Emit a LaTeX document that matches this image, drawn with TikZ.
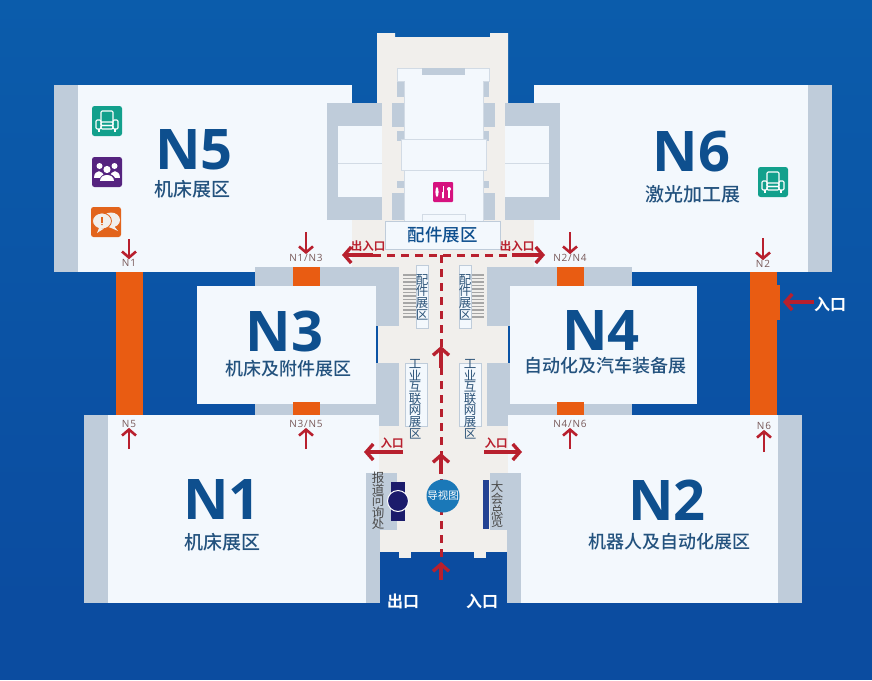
\documentclass[tikz,border=0pt]{standalone}
\usepackage{fontspec}
\setmainfont{Open Sans}
\newfontfamily\cjk{Noto Sans CJK SC}
\newfontfamily\cjkm{Noto Sans CJK SC Medium}
\newfontfamily\cjkb{Noto Sans CJK SC Bold}
\usetikzlibrary{arrows.meta}
\definecolor{hall}{HTML}{F3F8FD}
\definecolor{wing}{HTML}{BFCCDA}
\definecolor{floorc}{HTML}{F1EFEC}
\definecolor{ink}{HTML}{0E4F8E}
\definecolor{inkb}{HTML}{2C5378}
\definecolor{org}{HTML}{E95C12}
\definecolor{redc}{HTML}{B8202E}
\definecolor{teal}{HTML}{12A08C}
\definecolor{purp}{HTML}{55237F}
\definecolor{icorg}{HTML}{E2641C}
\definecolor{pinkc}{HTML}{D6127F}
\definecolor{navy}{HTML}{1B1B6B}
\definecolor{deep}{HTML}{0B4CA0}
\definecolor{guidec}{HTML}{1A78B8}
\tikzset{
  x=1pt,y=-1pt,
  pane/.style={fill=hall,draw=wing!70,line width=.6pt},
  title/.style={font=\fontsize{56}{56}\selectfont\bfseries,text=ink,inner sep=0pt},
  sub/.style={font=\cjkm\fontsize{18}{18}\selectfont,text=inkb!70!ink,inner sep=0pt},
  subw/.style={font=\cjkm\fontsize{19}{19}\selectfont,text=inkb!70!ink,inner sep=0pt},
  tag/.style={font=\addfontfeature{LetterSpace=8}\fontsize{10}{10}\selectfont,text=black!60!red!30!gray,inner sep=0pt},
  vtxt/.style={font=\cjk\fontsize{12.5}{11.6}\selectfont,text=inkb,inner sep=0pt,align=center},
  vbox/.style={fill=hall,draw=wing,line width=.6pt},
  redtxt/.style={font=\cjkb\fontsize{11.5}{11.5}\selectfont,text=redc,inner sep=0pt},
  whitetxt/.style={font=\cjkb\fontsize{16}{16}\selectfont,text=white,inner sep=0pt},
  redarrow/.style={draw=redc,line width=3.4pt,-{Straight Barb[length=7pt,width=16pt,line width=3.4pt]}},
  smallarrow/.style={draw=redc,line width=2.6pt,-{Straight Barb[length=6pt,width=14pt,line width=2.6pt]}},
  dashline/.style={draw=redc,line width=3pt,dash pattern=on 8pt off 6pt},
  icon/.style={rounded corners=2.5pt,draw=none,minimum size=30pt,inner sep=0pt},
  chair/.pic={
    \begin{scope}[draw=white,line width=1.1pt,fill=none,rounded corners=1.2pt]
      \draw (-6,1) -- (-6,-10) -- (6,-10) -- (6,1);
      \draw (-11,-1) rectangle (-6,8);
      \draw (6,-1) rectangle (11,8);
      \draw (-6,1) rectangle (6,4.5);
      \draw (-6,4.5) rectangle (6,8);
      \draw (-8,8) -- (-8,11) (8,8) -- (8,11);
    \end{scope}}
}
\begin{document}
\begin{tikzpicture}
\useasboundingbox (0,0) rectangle (872,680);
% background
\shade[top color={rgb,255:red,11;green,92;blue,171},bottom color=deep] (0,0) rectangle (872,604);
\fill[deep] (0,603) rectangle (872,680);
% central floor
\fill[floorc] (377,33) -- (395,33) -- (395,37) -- (490,37) -- (490,33) -- (508,33) -- (508,270) -- (377,270) -- cycle;
\fill[floorc] (352,220) rectangle (534,272);
\fill[floorc] (378,260) rectangle (508,552);
% N5 N6
\fill[hall] (54,85) rectangle (352,272);
\fill[wing] (54,85) rectangle (78,272);
\fill[hall] (534,85) rectangle (832,272);
\fill[wing] (808,85) rectangle (832,272);
% side blocks of the upper building
\fill[wing] (327,103) rectangle (382,220);
\fill[hall] (338,126) rectangle (382,197);
\draw[wing!70,line width=.6pt] (338,163) -- (382,163);
\fill[wing] (505,103) rectangle (560,220);
\fill[hall] (505,126) rectangle (549,197);
\draw[wing!70,line width=.6pt] (505,163) -- (549,163);
% inner building
\fill[wing] (397,81) rectangle (404,97);
\fill[wing] (392,103) rectangle (404,127);
\fill[wing] (397,131) rectangle (404,141);
\fill[wing] (397,181) rectangle (404,188);
\fill[wing] (392,193) rectangle (404,220);
\fill[wing] (483,81) rectangle (489,97);
\fill[wing] (483,103) rectangle (495,127);
\fill[wing] (483,131) rectangle (489,141);
\fill[wing] (483,181) rectangle (489,188);
\fill[wing] (483,193) rectangle (495,220);
\path[pane] (397,68) rectangle (489,81);
\fill[hall] (404,75) rectangle (483,139);
\draw[wing!70,line width=.6pt] (404,81) -- (404,139) -- (483,139) -- (483,81);
\fill[wing] (422,68) rectangle (465,75);
\path[pane] (401,139) rectangle (486,170);
\path[pane] (404,170) rectangle (483,221);
\path[pane] (422,214) rectangle (465,221);
% N3 N4 surroundings
\fill[wing] (255,267) rectangle (399,326);
\fill[wing] (255,403) rectangle (378,415);
\fill[wing] (376,363) rectangle (399,426);
\fill[wing] (487,267) rectangle (632,326);
\fill[wing] (508,403) rectangle (632,415);
\fill[wing] (487,363) rectangle (510,426);
\fill[hall] (197,286) rectangle (376,404);
\fill[hall] (510,286) rectangle (697,404);
% N1 N2
\fill[hall] (84,415) rectangle (379,603);
\fill[wing] (84,415) rectangle (108,603);
\fill[wing] (366,473) rectangle (380,603);
\fill[wing] (366,473) rectangle (397,530);
\fill[hall] (508,415) rectangle (802,603);
\fill[wing] (778,415) rectangle (802,603);
\fill[wing] (507,473) rectangle (521,603);
\fill[wing] (490,473) rectangle (521,530);
% entrance bay
\fill[deep] (380,552) rectangle (507,603);
\fill[floorc] (399,552) rectangle (411,558);
\fill[floorc] (474,552) rectangle (486,558);
% orange corridors
\fill[org] (116,272) rectangle (143,415);
\fill[org] (750,272) rectangle (777,415);
\fill[org] (777,285) rectangle (780,320);
\fill[org] (293,267) rectangle (320,286);
\fill[org] (293,402) rectangle (320,415);
\fill[org] (557,267) rectangle (584,286);
\fill[org] (557,402) rectangle (584,415);
% stairs
\foreach \y in {275,278.5,...,320}{
  \draw[black!35,line width=1.8pt] (403,\y) -- (416,\y);
  \draw[black!35,line width=1.8pt] (471,\y) -- (484,\y);
}
% label boxes
\path[vbox] (416,265) rectangle (428,328);
\path[vbox] (459,265) rectangle (471,328);
\path[vbox] (405,363) rectangle (427,426);
\path[vbox] (459,363) rectangle (481,426);
\node[vbox,minimum width=115pt,minimum height=28pt,inner sep=0pt,font=\cjkm\fontsize{17.5}{17.5}\selectfont,text=ink] (parts) at (442.5,235) {配件展区};
\node[vtxt] (pl) at (422,297) {配\\件\\展\\区};
\node[vtxt] (pr) at (465,297) {配\\件\\展\\区};
\node[vtxt] (il) at (415,399) {工\\业\\互\\联\\网\\展\\区};
\node[vtxt] (ir) at (470,399) {工\\业\\互\\联\\网\\展\\区};
% desks
\fill[navy] (391,482) rectangle (405,521);
\node[circle,fill=navy,draw=white,line width=1pt,minimum size=21pt,inner sep=0pt] (desk) at (398,501) {};
\fill[inkb!80!blue] (483,480) rectangle (489,529);
\node[vtxt,text=black!70] (report) at (378,501) {报\\道\\问\\询\\处};
\node[vtxt,text=black!70] (expo) at (497,504.5) {大\\会\\总\\览};
% route
\coordinate (hl) at (342,255);
\coordinate (hr) at (545,255);
\coordinate (hla) at (373,255);
\coordinate (hra) at (512,255);
\coordinate (vt) at (441,255);
\coordinate (vb) at (441,578);
\coordinate (a1) at (441,368); \coordinate (a1t) at (441,346);
\coordinate (a2) at (441,474); \coordinate (a2t) at (441,453);
\coordinate (a3) at (441,580); \coordinate (a3t) at (441,562);
\draw[dashline] (hla) -- (hra);
\draw[dashline] (vt) -- (vb);
\draw[redarrow] (hla) -- (hl);
\draw[redarrow] (hra) -- (hr);
\draw[redarrow] (a1) -- (a1t);
\draw[redarrow] (a2) -- (a2t);
\draw[redarrow] (a3) -- (a3t);
\coordinate (el) at (403,452); \coordinate (elt) at (364,452);
\coordinate (er) at (484,452); \coordinate (ert) at (522,452);
\draw[redarrow] (el) -- (elt);
\draw[redarrow] (er) -- (ert);
\coordinate (eo) at (814,302); \coordinate (eot) at (783,302);
\draw[redarrow] (eo) -- (eot);
\node[redtxt] (t1) at (368,246) {出入口};
\node[redtxt] (t2) at (517,246) {出入口};
\node[redtxt] (t3) at (392,443) {入口};
\node[redtxt] (t4) at (496,443) {入口};
\node[circle,fill=guidec,minimum size=33pt,inner sep=0pt,font=\cjk\fontsize{10.5}{10.5}\selectfont,text=white] (guide) at (443,496) {导视图};
\node[whitetxt] (ex) at (403,601) {出口};
\node[whitetxt] (en) at (482,601) {入口};
\node[whitetxt] (enr) at (830,304) {入口};
% tags and door arrows
\node[tag] (n1) at (129,263) {N1};
\node[tag] (n13) at (306,258) {N1/N3};
\node[tag] (n24) at (570,258) {N2/N4};
\node[tag] (n2) at (763,264) {N2};
\node[tag] (n5) at (129,424) {N5};
\node[tag] (n35) at (306,424) {N3/N5};
\node[tag] (n46) at (570,424) {N4/N6};
\node[tag] (n6) at (764,426) {N6};
\coordinate (s1) at (129,239);
\coordinate (s13) at (306,232);
\coordinate (s24) at (570,232);
\coordinate (s2) at (763,238);
\coordinate (s5) at (129,449);
\coordinate (s35) at (306,449);
\coordinate (s46) at (570,449);
\coordinate (s6) at (764,452);
\draw[smallarrow] (s1) -- (n1.north);
\draw[smallarrow] (s13) -- (n13.north);
\draw[smallarrow] (s24) -- (n24.north);
\draw[smallarrow] (s2) -- (n2.north);
\draw[smallarrow] (s5) -- (n5.south);
\draw[smallarrow] (s35) -- (n35.south);
\draw[smallarrow] (s46) -- (n46.south);
\draw[smallarrow] (s6) -- (n6.south);
% titles
\node[title] (N5) at (194,150) {N5};
\node[subw] (N5s) at (192,189) {机床展区};
\node[title] (N6) at (691.5,152) {N6};
\node[subw] (N6s) at (693,194) {激光加工展};
\node[title] (N3) at (284.5,331) {N3};
\node[sub] (N3s) at (288,368.5) {机床及附件展区};
\node[title] (N4) at (601,331) {N4};
\node[sub] (N4s) at (605,365.5) {自动化及汽车装备展};
\node[title] (N1) at (222,500) {N1};
\node[subw] (N1s) at (222,542) {机床展区};
\node[title] (N2) at (667,500) {N2};
\node[sub] (N2s) at (669,542) {机器人及自动化展区};
% icons
\node[icon,fill=teal] (ic1) at (107,121) {};
\pic at (ic1.center) {chair};
\node[icon,fill=teal] (ic4) at (773,182) {};
\pic at (ic4.center) {chair};
\node[icon,fill=purp] (ic2) at (107,172) {};
\begin{scope}[shift={(107,172)}]
  \fill[white] (-7.5,-6) circle (3);
  \fill[white] (7.5,-6) circle (3);
  \fill[white] (-13,6) .. controls (-13,-3) and (-3,-3) .. (-3,6) -- cycle;
  \fill[white] (13,6) .. controls (13,-3) and (3,-3) .. (3,6) -- cycle;
  \fill[purp] (0,-2.5) circle (4.6);
  \fill[white] (0,-2.5) circle (3.6);
  \fill[purp] (-8.5,10) .. controls (-8.5,-1) and (8.5,-1) .. (8.5,10) -- cycle;
  \fill[white] (-7,9) .. controls (-7,1) and (7,1) .. (7,9) -- cycle;
\end{scope}
\node[icon,fill=icorg] (ic3) at (106,222) {};
\begin{scope}[shift={(106,222)}]
  \fill[floorc] (5,-2) ellipse (9 and 7.5);
  \fill[floorc] (8,4) -- (12,9) -- (3,5) -- cycle;
  \fill[floorc,draw=icorg,line width=.8pt] (-4,-1) ellipse (9.5 and 8);
  \fill[floorc] (-7,6) -- (-9,11) -- (-2,6.5) -- cycle;
  \fill[icorg] (-4.6,-5.5) rectangle (-3.4,0.5);
  \fill[icorg] (-4,2.5) circle (.8);
\end{scope}
\node[icon,fill=pinkc,minimum size=20pt,rounded corners=1pt] (ic5) at (443,192) {};
\begin{scope}[shift={(443,192)},white]
  \fill (-6,0) ellipse (1.6 and 5);
  \fill (0,-1) -- (0,0) -- (-.9,0) -- (-.9,6) -- (.9,6) -- (.9,-6) -- (0,-6) -- cycle;
  \fill (6,-3) circle (2);
  \fill (5.2,-2) rectangle (6.8,6);
\end{scope}
\end{tikzpicture}
\end{document}
